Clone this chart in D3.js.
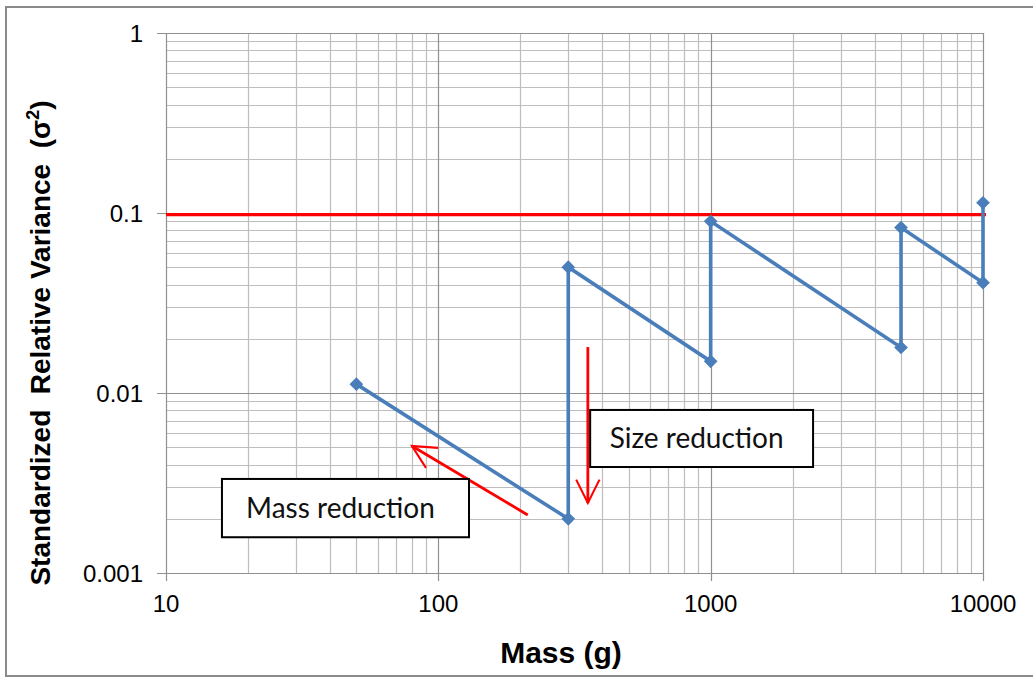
<!DOCTYPE html>
<meta charset="utf-8">
<head>
    <script src="https://d3js.org/d3.v7.min.js"></script>
    <style>
        body { margin: 0; background: #fff; }
        .tick-label { font: 24px "Liberation Sans", Arial, sans-serif; fill: #000; }
        .axis-title { font: bold 30px "Liberation Sans", Arial, sans-serif; fill: #000; }
        .note { font: 28px Lato, "Open Sans", sans-serif; fill: #111; }
    </style>
</head>
<body>
<div id="chart"></div>
<script>
    // sample mass (g) and the variance reached at each step
    var massG    = [50, 300, 300, 1000, 1000, 5000, 5000, 10000, 10000];
    var variance = [0.0112, 0.002, 0.05, 0.015, 0.09, 0.0179, 0.083, 0.041, 0.114];
    var limit = 0.098;

    var xTicks = [10, 100, 1000, 10000];
    var yTicks = [0.001, 0.01, 0.1, 1];
    var yTickLabels = ["0.001", "0.01", "0.1", "1"];

    // annotation boxes and arrows, in data units
    var notes = [
        {text: "Size reduction", x0: 361, x1: 2377, y0: 0.00805, y1: 0.00388},
        {text: "Mass reduction", x0: 16.05, x1: 129.6, y0: 0.00333, y1: 0.00158}
    ];
    var arrows = [
        {x0: 354, y0: 0.018, x1: 354, y1: 0.00245},
        {x0: 213, y0: 0.0021, x1: 80, y1: 0.00508}
    ];

    var W = 1033, H = 678;
    var margin = {top: 33, right: 50, bottom: 105, left: 166},
        width = W - margin.left - margin.right,
        height = H - margin.top - margin.bottom;

    var root = d3.select("#chart").append("svg")
        .attr("width", W)
        .attr("height", H);

    // outer frame (right edge is cut off in the original)
    root.append("rect")
        .attr("x", 6).attr("y", 7)
        .attr("width", W + 20).attr("height", 669)
        .attr("fill", "none")
        .attr("stroke", "#8a8a8a")
        .attr("stroke-width", 2);

    var svg = root.append("g")
        .attr("transform", "translate(" + margin.left + "," + margin.top + ")");

    var x = d3.scaleLog().domain([10, 10000]).range([0, width]);
    var y = d3.scaleLog().domain([0.001, 1]).range([height, 0]);

    // gridlines
    var xMinor = x.ticks().filter(function(d) { return xTicks.indexOf(d) < 0; });
    var yMinor = y.ticks().filter(function(d) { return yTicks.indexOf(d) < 0; });

    svg.append("g").selectAll("line")
        .data(xMinor)
        .enter().append("line")
        .attr("x1", function(d) { return Math.round(x(d)) + 0.5; })
        .attr("x2", function(d) { return Math.round(x(d)) + 0.5; })
        .attr("y1", 0).attr("y2", height)
        .attr("stroke", "#bdbdbd")
        .attr("stroke-width", 1.2);

    svg.append("g").selectAll("line")
        .data(yMinor)
        .enter().append("line")
        .attr("y1", function(d) { return Math.round(y(d)) + 0.5; })
        .attr("y2", function(d) { return Math.round(y(d)) + 0.5; })
        .attr("x1", 0).attr("x2", width)
        .attr("stroke", "#bdbdbd")
        .attr("stroke-width", 1.2);

    svg.append("g").selectAll("line")
        .data(xTicks)
        .enter().append("line")
        .attr("x1", function(d) { return Math.round(x(d)) + 0.5; })
        .attr("x2", function(d) { return Math.round(x(d)) + 0.5; })
        .attr("y1", 0).attr("y2", height + 8)
        .attr("stroke", "#909090")
        .attr("stroke-width", 1.2);

    svg.append("g").selectAll("line")
        .data(yTicks)
        .enter().append("line")
        .attr("y1", function(d) { return Math.round(y(d)) + 0.5; })
        .attr("y2", function(d) { return Math.round(y(d)) + 0.5; })
        .attr("x1", -9).attr("x2", width)
        .attr("stroke", "#909090")
        .attr("stroke-width", 1.2);

    // tick labels
    svg.append("g").selectAll("text")
        .data(xTicks)
        .enter().append("text")
        .attr("class", "tick-label")
        .attr("x", function(d) { return x(d); })
        .attr("y", height + 39)
        .attr("text-anchor", "middle")
        .text(function(d) { return d; });

    svg.append("g").selectAll("text")
        .data(yTicks)
        .enter().append("text")
        .attr("class", "tick-label")
        .attr("x", -23)
        .attr("y", function(d) { return y(d) + 9; })
        .attr("text-anchor", "end")
        .text(function(d, i) { return yTickLabels[i]; });

    // axis titles
    svg.append("text")
        .attr("class", "axis-title")
        .attr("x", 561 - margin.left)
        .attr("y", 663 - margin.top)
        .attr("text-anchor", "middle")
        .text("Mass (g)");

    var yt = svg.append("text")
        .attr("class", "axis-title")
        .attr("transform", "translate(" + (50 - margin.left) + "," + (343 - margin.top) + ") rotate(-90)")
        .attr("text-anchor", "middle")
        .style("font-size", "28px")
        .style("white-space", "pre");
    yt.append("tspan").text("Standardized  Relative Variance  (σ");
    yt.append("tspan").attr("dy", -11).style("font-size", "18px").text("2");
    yt.append("tspan").attr("dy", 11).text(")");

    // red limit line
    svg.append("line")
        .attr("x1", 0).attr("x2", width + 3)
        .attr("y1", y(limit)).attr("y2", y(limit))
        .attr("stroke", "#ff0000")
        .attr("stroke-width", 3.2);

    // sampling path
    var pts = massG.map(function(m, i) { return [m, variance[i]]; });

    svg.append("path")
        .datum(pts)
        .attr("fill", "none")
        .attr("stroke", "#4a7ebb")
        .attr("stroke-width", 3.6)
        .attr("d", d3.line()
            .x(function(d) { return x(d[0]); })
            .y(function(d) { return y(d[1]); }));

    svg.append("g").selectAll("path")
        .data(pts)
        .enter().append("path")
        .attr("transform", function(d) { return "translate(" + x(d[0]) + "," + y(d[1]) + ")"; })
        .attr("d", d3.symbol().type(d3.symbolDiamond2).size(120))
        .attr("fill", "#4a7ebb");

    // arrows
    var defs = root.append("defs");
    defs.append("marker")
        .attr("id", "head")
        .attr("viewBox", "0 0 12 12")
        .attr("refX", 11).attr("refY", 6)
        .attr("markerWidth", 10).attr("markerHeight", 10)
        .attr("markerUnits", "strokeWidth")
        .attr("orient", "auto")
        .append("path")
        .attr("d", "M1,1 L11,6 L1,11")
        .attr("fill", "none")
        .attr("stroke", "#ff0000")
        .attr("stroke-width", 0.9);

    svg.append("g").selectAll("line")
        .data(arrows)
        .enter().append("line")
        .attr("x1", function(d) { return x(d.x0); })
        .attr("y1", function(d) { return y(d.y0); })
        .attr("x2", function(d) { return x(d.x1); })
        .attr("y2", function(d) { return y(d.y1); })
        .attr("stroke", "#ff0000")
        .attr("stroke-width", 2.8)
        .attr("marker-end", "url(#head)");

    // annotation boxes
    var note = svg.append("g").selectAll("g")
        .data(notes)
        .enter().append("g");

    note.append("rect")
        .attr("x", function(d) { return x(d.x0); })
        .attr("y", function(d) { return y(d.y0); })
        .attr("width", function(d) { return x(d.x1) - x(d.x0); })
        .attr("height", function(d) { return y(d.y1) - y(d.y0); })
        .attr("fill", "#fff")
        .attr("stroke", "#000")
        .attr("stroke-width", 2);

    note.append("text")
        .attr("class", "note")
        .attr("x", function(d) { return (x(d.x0) + x(d.x1)) / 2 - 5; })
        .attr("y", function(d) { return (y(d.y0) + y(d.y1)) / 2 + 10; })
        .attr("text-anchor", "middle")
        .text(function(d) { return d.text; });
</script>
</body>
